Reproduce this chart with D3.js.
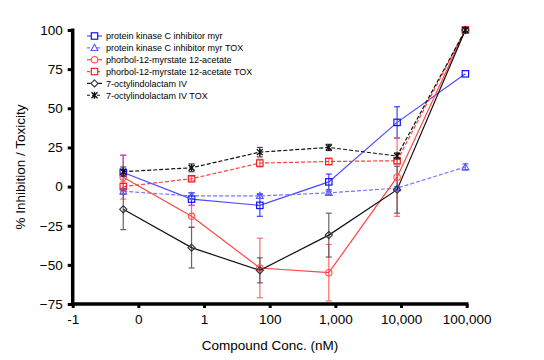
<!DOCTYPE html>
<html><head><meta charset="utf-8">
<script src="https://cdn.jsdelivr.net/npm/d3@7"></script>
<style>body{margin:0;background:#fff}svg{display:block;font-family:"Liberation Sans",Arial,sans-serif}</style>
</head><body><svg id="c" width="544" height="360"></svg>
<script>
// x positions in log10(nM) units
const concLog = [-0.23, 0.81, 1.85, 2.9, 3.94, 4.98];
const xTickValues = [-1, 0, 1, 2, 3, 4, 5];
const xTickLabels = ["-1", "0", "1", "100", "1,000", "10,000", "100,000"];
const yTickValues = [-75, -50, -25, 0, 25, 50, 75, 100];

const seriesNames = [
  "protein kinase C inhibitor myr",
  "protein kinase C inhibitor myr TOX",
  "phorbol-12-myrstate 12-acetate",
  "phorbol-12-myrstate 12-acetate TOX",
  "7-octylindolactam IV",
  "7-octylindolactam IV TOX"
];
const pkcMean = [9, -8, -12, 3, 41, 72];
const pkcErr  = [11, 4, 7, 5, 10, 0];
const pkcToxMean = [-3, -6, -6, -4, -1, 12.5];
const pkcToxErr  = [2, 2, 1.5, 1, 1, 2];
const pmaMean = [6, -19, -52, -55, 6, 100];
const pmaErr  = [14, 7, 19, 18, 25, 0];
const pmaToxMean = [0, 5, 15, 16, 16.5, 100];
const pmaToxErr  = [3, 1.5, 2.5, 2, 2, 0];
const olMean = [-14.5, -39, -53.5, -31, -2, 100];
const olErr  = [13, 13, 8, 14, 15, 0];
const olToxMean = [9.5, 12, 22, 25, 19.5, 100];
const olToxErr  = [3, 2.5, 3, 2, 2, 0];

const series = [
  {name: seriesNames[0], mean: pkcMean, err: pkcErr, line:"#4a4aff", mark:"#1010ff", ebar:"#2a2aff", dash:null, sym:"square"},
  {name: seriesNames[1], mean: pkcToxMean, err: pkcToxErr, line:"#7777ff", mark:"#5a5aff", ebar:"#5a5aff", dash:"4,2", sym:"triangle"},
  {name: seriesNames[2], mean: pmaMean, err: pmaErr, line:"#ff4545", mark:"#ff5050", ebar:"#ff5a5a", dash:null, sym:"circle"},
  {name: seriesNames[3], mean: pmaToxMean, err: pmaToxErr, line:"#ff4040", mark:"#ee2020", ebar:"#ff6060", dash:"4,2", sym:"square"},
  {name: seriesNames[4], mean: olMean, err: olErr, line:"#111", mark:"#333", ebar:"#555", dash:null, sym:"diamond"},
  {name: seriesNames[5], mean: olToxMean, err: olToxErr, line:"#111", mark:"#111", ebar:"#333", dash:"4,2", sym:"star"}
];

const svg = d3.select("#c");
const x = d3.scaleLinear().domain([-1, 5]).range([72.7, 466.7]);
const y = d3.scaleLinear().domain([-75, 100]).range([304, 30]);

// axes
const yAxis = svg.append("g").attr("transform","translate(72.7,0)")
  .call(d3.axisLeft(y).tickValues(yTickValues).tickSize(5).tickPadding(5).tickFormat(d3.format("d")));
const xAxis = svg.append("g").attr("transform","translate(0,304)")
  .call(d3.axisBottom(x).tickValues(xTickValues).tickSize(4).tickPadding(6).tickFormat((d,i)=>xTickLabels[i]));
[yAxis, xAxis].forEach(g=>{
  g.select(".domain").attr("stroke","#000").attr("stroke-width",3.5);
  g.selectAll(".tick line").attr("stroke","#000").attr("stroke-width",3);
  g.selectAll(".tick text").attr("font-size","13.5px").attr("fill","#000").attr("font-family","Liberation Sans, Arial, sans-serif");
});
xAxis.select(".domain").attr("d","M72.7,0H468.5");
yAxis.select(".domain").attr("d","M0,28.5V304");

svg.append("text").attr("x",270).attr("y",350).attr("text-anchor","middle")
  .attr("font-size","13.5px").text("Compound Conc. (nM)");
svg.append("text").attr("transform","translate(25,167) rotate(-90)").attr("text-anchor","middle")
  .attr("font-size","13.5px").text("% Inhibition / Toxicity");

function drawSym(g, sym, cx, cy, color, fill) {
  const s = 3.2;
  if (sym==="square") g.append("rect").attr("x",cx-s).attr("y",cy-s).attr("width",2*s).attr("height",2*s).attr("fill",fill||"none").attr("stroke",color).attr("stroke-width",1.2);
  else if (sym==="circle") g.append("circle").attr("cx",cx).attr("cy",cy).attr("r",3.2).attr("fill",fill||"none").attr("stroke",color).attr("stroke-width",1.1);
  else if (sym==="triangle") g.append("path").attr("d",`M${cx},${cy-3.6}L${cx+3.4},${cy+2.6}L${cx-3.4},${cy+2.6}Z`).attr("fill",fill||"none").attr("stroke",color).attr("stroke-width",1.1);
  else if (sym==="diamond") g.append("path").attr("d",`M${cx},${cy-3.6}L${cx+3.6},${cy}L${cx},${cy+3.6}L${cx-3.6},${cy}Z`).attr("fill",fill||"none").attr("stroke",color).attr("stroke-width",1.1);
  else if (sym==="star") { g.append("path").attr("d",`M${cx-3},${cy-3}L${cx+3},${cy+3}M${cx+3},${cy-3}L${cx-3},${cy+3}M${cx},${cy-3.5}V${cy+3.5}`).attr("stroke",color).attr("stroke-width",1.4); }
}

const plot = svg.append("g");
// error bars
series.forEach(s=>{
  const g = plot.append("g").attr("stroke", s.ebar).attr("stroke-width",1.2).attr("opacity",0.9);
  s.mean.forEach((m,i)=>{
    const e = s.err[i]; if (!e) return;
    const cx = x(concLog[i]);
    g.append("line").attr("x1",cx).attr("x2",cx).attr("y1",y(m+e)).attr("y2",y(m-e));
    g.append("line").attr("x1",cx-3).attr("x2",cx+3).attr("y1",y(m+e)).attr("y2",y(m+e));
    g.append("line").attr("x1",cx-3).attr("x2",cx+3).attr("y1",y(m-e)).attr("y2",y(m-e));
  });
});
// lines
const lineGen = d3.line().x((d,i)=>x(concLog[i])).y(d=>y(d));
series.forEach(s=>{
  plot.append("path").attr("d", lineGen(s.mean)).attr("fill","none")
    .attr("stroke", s.line).attr("stroke-width",1.2).attr("stroke-dasharray", s.dash);
});
// markers
series.forEach(s=>{
  const g = plot.append("g");
  s.mean.forEach((m,i)=> drawSym(g, s.sym, x(concLog[i]), y(m), s.mark));
});

// legend
const lg = svg.append("g");
series.forEach((s,i)=>{
  const ly = 36 + i*11.85;
  lg.append("line").attr("x1",87).attr("x2",102).attr("y1",ly).attr("y2",ly)
    .attr("stroke", s.line).attr("stroke-width",1.2).attr("stroke-dasharray", s.dash ? "3,2" : null);
  drawSym(lg, s.sym, 94.5, ly, s.mark, "#fff");
  lg.append("text").attr("x",106).attr("y",ly+3.3).attr("font-size","9px").attr("fill","#000").text(s.name);
});
</script></body></html>
